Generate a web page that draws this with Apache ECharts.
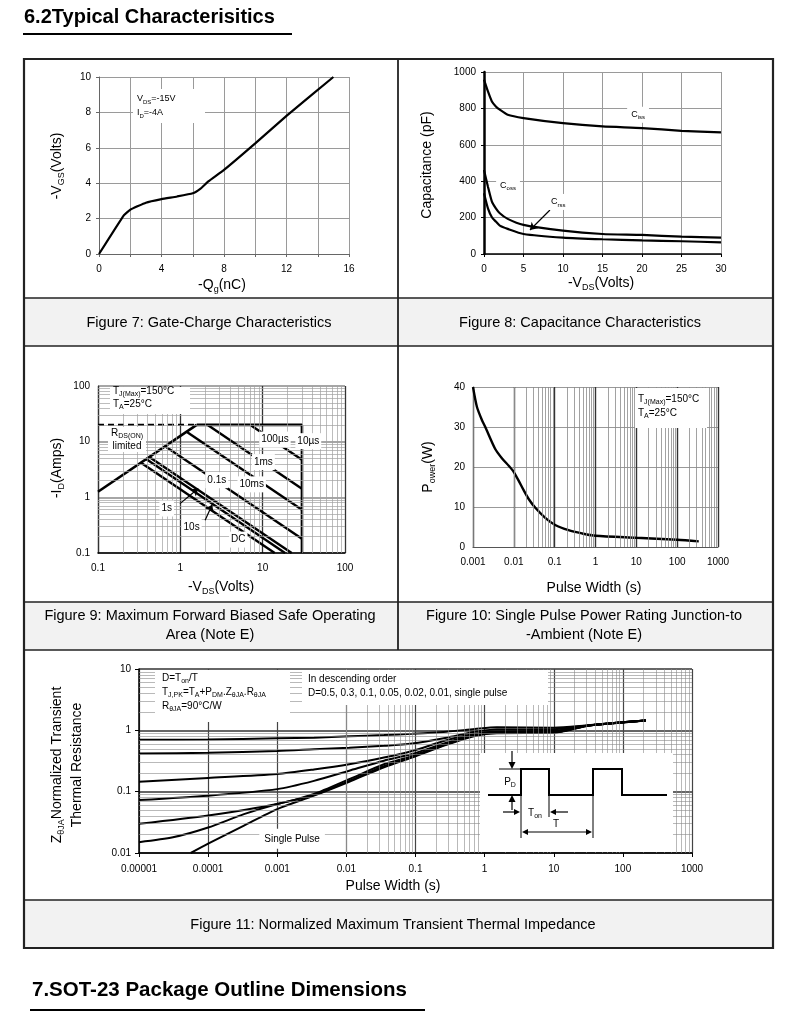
<!DOCTYPE html>
<html>
<head>
<meta charset="utf-8">
<title>Typical Characteristics</title>
<script src="https://cdn.jsdelivr.net/npm/echarts@6/dist/echarts.min.js"></script>
<style>
html,body{margin:0;padding:0;background:#fff;}
#chart{width:790px;height:1025px;}
</style>
</head>
<body>
<div id="chart"></div>
<script>
// ---------------- DATA ----------------
// Figure 7: gate charge
const gateCharge  = [0, 1.6, 2, 3, 4, 5, 6, 6.5, 7, 8, 10, 12, 15];
const gateVoltage = [0, 2.2, 2.5, 2.9, 3.1, 3.25, 3.43, 3.7, 4.1, 4.75, 6.25, 7.8, 10];

// Figure 8: capacitance
const capVds = [0, 0.5, 1, 1.5, 2, 3, 5, 10, 15, 20, 25, 30];
const cissPF = [958, 893, 838, 811, 793, 765, 747, 719, 701, 692, 677, 668];
const cossPF = [462, 370, 288, 251, 224, 193, 160, 128, 110, 105, 95, 90];
const crssPF = [334, 251, 202, 178, 156, 138, 110, 90, 81, 75, 70, 64];

// Figure 9: safe operating area
const soaRdsV   = [0.1, 1.58];
const soaRdsI   = [1.26, 20];
const soaBoundV = [1.58, 30, 30];
const soaBoundI = [20, 20, 0.1];
const soaDashV  = [0.1, 1.58];
const soaDashI  = [20, 20];
const soaPulseNames = ['100µs', '1ms', '10ms', '0.1s', '1s', '10s', 'DC'];
const soaStartV = [7.1, 2.15, 1.19, 0.653, 0.42, 0.384, 0.333];
const soaStartI = [20, 20, 15.1, 8.27, 5.3, 4.86, 4.2];
const soaEndV   = [30, 30, 30, 30, 22.5, 18.7, 14];
const soaEndI   = [4.73, 1.43, 0.6, 0.18, 0.1, 0.1, 0.1];

// Figure 10: single pulse power
const pulseWidthS = [0.001, 0.00125, 0.00166, 0.002, 0.0035, 0.0051, 0.0075, 0.0099, 0.0131, 0.0174, 0.0231, 0.0336, 0.0588, 0.103, 0.219, 0.465, 1, 10, 100, 338];
const peakPowerW  = [40, 35, 31.7, 30, 24.5, 22.2, 20.3, 18.8, 16.6, 14.2, 12.0, 9.8, 7.3, 5.5, 4.2, 3.4, 2.8, 2.3, 1.8, 1.4];

// Figure 11: normalized transient thermal impedance
const zthT    = [1e-5, 1e-4, 1e-3, 3.4e-3, 0.011, 0.035, 0.089, 0.28, 0.72, 1.5, 10, 30, 215];
const zthD05  = [0.70, 0.71, 0.74, 0.76, 0.80, 0.84, 0.88, 0.95, 1.05, 1.12, 1.1, 1.2, 1.44];
const zthD03  = [0.42, 0.43, 0.46, 0.49, 0.52, 0.56, 0.61, 0.76, 0.95, 1.03, 1.04, 1.2, 1.44];
const zthD01  = [0.145, 0.167, 0.194, 0.23, 0.28, 0.36, 0.46, 0.69, 0.88, 0.96, 0.98, 1.19, 1.44];
const zthD005 = [0.073, 0.086, 0.11, 0.15, 0.22, 0.32, 0.41, 0.63, 0.86, 0.94, 0.95, 1.19, 1.44];
const zthD002 = [0.030, 0.041, 0.063, 0.092, 0.16, 0.28, 0.38, 0.61, 0.84, 0.92, 0.93, 1.18, 1.44];
const zthD001T = [1e-5, 3.1e-5, 1e-4, 3.3e-4, 1e-3, 3.4e-3, 0.011, 0.035, 0.089, 0.28, 0.72, 1.5, 10, 30, 215];
const zthD001  = [0.015, 0.018, 0.026, 0.043, 0.063, 0.088, 0.15, 0.26, 0.37, 0.59, 0.83, 0.91, 0.92, 1.18, 1.44];
const zthSingleT = [5.6e-5, 1e-4, 3.3e-4, 1e-3, 3.4e-3, 0.011, 0.035, 0.089, 0.28, 0.72, 1.5, 10, 30, 215];
const zthSingle  = [0.01, 0.0142, 0.028, 0.052, 0.086, 0.145, 0.25, 0.36, 0.58, 0.81, 0.9, 0.91, 1.18, 1.44];

// ---------------- LAYOUT ----------------
const FONT = '"Liberation Sans", Arial, Helvetica, sans-serif';
const GRIDS = [
  {left: 99,  top: 77,  width: 250, height: 177},
  {left: 484, top: 72,  width: 237, height: 182},
  {left: 98,  top: 386, width: 247, height: 167},
  {left: 473, top: 387, width: 245, height: 160},
  {left: 139, top: 669, width: 553, height: 184}
];

const chart = echarts.init(document.getElementById('chart'), null, {width: 790, height: 1025});

const zip = (xs, ys) => xs.map((x, i) => [x, ys[i]]);
const logFmt = v => {
  const e = Math.round(Math.log10(v));
  return e < 0 ? Math.pow(10, e).toFixed(-e) : String(Math.round(Math.pow(10, e)));
};
const plainFmt = v => String(v);
function minorValues(lo, hi) {
  const out = [];
  for (let e = lo; e < hi; e++) for (let k = 2; k <= 9; k++) out.push(+(k * Math.pow(10, e)).toPrecision(3));
  return out;
}
const tickLabel = {fontSize: 10, color: '#000', fontFamily: FONT};
const lbl = extra => Object.assign({}, tickLabel, extra || {});

function curve(gi, data, extra) {
  return Object.assign({
    type: 'line', xAxisIndex: gi, yAxisIndex: gi, data: data, symbol: 'none', showSymbol: false,
    smooth: 0.2, lineStyle: {color: '#000', width: 2.2}, z: 3, silent: true, animation: false
  }, extra || {});
}
function minorGrid(gi, xs, ys, color, width) {
  const d = [];
  (xs || []).forEach(v => d.push({xAxis: v}));
  (ys || []).forEach(v => d.push({yAxis: v}));
  return {
    type: 'line', xAxisIndex: gi, yAxisIndex: gi, data: [], symbol: 'none', z: 1, silent: true, animation: false,
    markLine: {silent: true, symbol: 'none', animation: false, label: {show: false},
      lineStyle: {color: color, width: width, type: 'solid'}, emphasis: {disabled: true}, data: d}
  };
}
function arrowLines(pairs) {
  return {
    silent: true, animation: false, symbol: ['none', 'arrow'], symbolSize: 7, label: {show: false},
    lineStyle: {color: '#000', width: 1.2, type: 'solid'}, emphasis: {disabled: true},
    data: pairs.map(p => [{coord: p[0]}, {coord: p[1]}])
  };
}

const xAxis = [
  {gridIndex: 0, type: 'value', min: 0, max: 16, interval: 2,
    axisLabel: lbl({margin: 10, formatter: v => (v % 4 === 0 ? String(v) : '')}),
    axisLine: {onZero: false, lineStyle: {color: '#666', width: 1}}, axisTick: {length: 3, lineStyle: {color: '#666'}},
    splitLine: {show: true, lineStyle: {color: '#9a9a9a', width: 1}}},
  {gridIndex: 1, type: 'value', min: 0, max: 30, interval: 5, axisLabel: lbl({margin: 10, formatter: plainFmt}),
    axisLine: {onZero: false, lineStyle: {color: '#000', width: 1.5}}, axisTick: {length: 3, lineStyle: {color: '#000'}},
    splitLine: {show: true, lineStyle: {color: '#9a9a9a', width: 1}}},
  {gridIndex: 2, type: 'log', logBase: 10, min: 0.1, max: 100, axisLabel: lbl({margin: 10, formatter: logFmt}),
    axisLine: {lineStyle: {color: '#000', width: 1.5}}, axisTick: {show: false},
    splitLine: {show: true, lineStyle: {color: '#333', width: 1.3}}},
  {gridIndex: 3, type: 'log', logBase: 10, min: 0.001, max: 1000, axisLabel: lbl({margin: 10, formatter: logFmt}),
    axisLine: {lineStyle: {color: '#555', width: 1.2}}, axisTick: {show: false},
    splitLine: {show: true, lineStyle: {color: '#333', width: 1.4}}},
  {gridIndex: 4, type: 'log', logBase: 10, min: 0.00001, max: 1000, axisLabel: lbl({margin: 11, formatter: logFmt}),
    axisLine: {lineStyle: {color: '#000', width: 1.5}}, axisTick: {show: true, length: 4, lineStyle: {color: '#000'}},
    splitLine: {show: true, lineStyle: {color: '#444', width: 1.2}}}
];
const yAxis = [
  {gridIndex: 0, type: 'value', min: 0, max: 10, interval: 2, axisLabel: lbl({formatter: plainFmt}),
    axisLine: {onZero: false, lineStyle: {color: '#666', width: 1}}, axisTick: {length: 3, lineStyle: {color: '#666'}},
    splitLine: {show: true, lineStyle: {color: '#9a9a9a', width: 1}}},
  {gridIndex: 1, type: 'value', min: 0, max: 1000, interval: 200, axisLabel: lbl({formatter: plainFmt}),
    axisLine: {onZero: false, lineStyle: {color: '#000', width: 2.5}}, axisTick: {length: 3, lineStyle: {color: '#000'}},
    splitLine: {show: true, lineStyle: {color: '#9a9a9a', width: 1}}},
  {gridIndex: 2, type: 'log', logBase: 10, min: 0.1, max: 100, axisLabel: lbl({formatter: logFmt}),
    axisLine: {lineStyle: {color: '#333', width: 1.2}}, axisTick: {show: false},
    splitLine: {show: true, lineStyle: {color: '#888', width: 1.5}}},
  {gridIndex: 3, type: 'value', min: 0, max: 40, interval: 10, axisLabel: lbl({formatter: plainFmt}),
    axisLine: {onZero: false, lineStyle: {color: '#777', width: 1}}, axisTick: {show: false},
    splitLine: {show: true, lineStyle: {color: '#999', width: 1}}},
  {gridIndex: 4, type: 'log', logBase: 10, min: 0.01, max: 10, axisLabel: lbl({formatter: logFmt}),
    axisLine: {lineStyle: {color: '#000', width: 1.5}}, axisTick: {show: true, length: 4, lineStyle: {color: '#000'}},
    splitLine: {show: true, lineStyle: {color: '#333', width: 1.5}}}
];

const series = [];
// Fig 7
series.push(curve(0, zip(gateCharge, gateVoltage), {smooth: 0.12}));
// Fig 8
series.push(curve(1, zip(capVds, cissPF)));
series.push(curve(1, zip(capVds, cossPF)));
series.push(curve(1, zip(capVds, crssPF), {markLine: arrowLines([[[8.35, 242], [5.82, 132]]])}));
// Fig 9
series.push(minorGrid(2, minorValues(-1, 2), minorValues(-1, 2), '#a0a0a0', 0.7));
series.push(curve(2, zip(soaRdsV, soaRdsI), {smooth: false, lineStyle: {color: '#000', width: 2.6}}));
series.push(curve(2, zip(soaBoundV, soaBoundI), {smooth: false, lineStyle: {color: '#000', width: 2.6}}));
series.push(curve(2, zip(soaDashV, soaDashI), {smooth: false, lineStyle: {color: '#000', width: 2.2, type: [6, 4]}}));
soaPulseNames.forEach((n, i) => {
  const extra = {smooth: false, name: n, lineStyle: {color: '#000', width: 2.4}};
  if (n === '1s') extra.markLine = arrowLines([[[0.99, 0.772], [1.65, 1.44]], [[2.0, 0.387], [2.44, 0.74]]]);
  series.push(curve(2, [[soaStartV[i], soaStartI[i]], [soaEndV[i], soaEndI[i]]], extra));
});
// Fig 10
series.push(minorGrid(3, minorValues(-3, 3), null, '#8a8a8a', 0.8));
series.push(curve(3, zip(pulseWidthS, peakPowerW), {smooth: 0.25, lineStyle: {color: '#000', width: 2.4}}));
// Fig 11
series.push(minorGrid(4, minorValues(-5, 3), minorValues(-2, 1), '#8a8a8a', 0.6));
[zthD05, zthD03, zthD01, zthD005, zthD002].forEach(z => series.push(curve(4, zip(zthT, z), {smooth: 0.25, lineStyle: {color: '#000', width: 2}})));
series.push(curve(4, zip(zthD001T, zthD001), {smooth: 0.25, lineStyle: {color: '#000', width: 2}}));
series.push(curve(4, zip(zthSingleT, zthSingle), {smooth: 0.25, lineStyle: {color: '#000', width: 2}}));

chart.setOption({
  animation: false,
  grid: GRIDS.map(g => Object.assign({containLabel: false}, g)),
  xAxis: xAxis,
  yAxis: yAxis,
  series: series
});

// ---------------- GRAPHICS (frame, captions, annotations) ----------------
function txt(x, y, text, fs, o) {
  o = o || {};
  const subFs = Math.max(6, Math.round(fs * 0.66));
  const style = {
    text: text, fontSize: fs, fontFamily: FONT, fontWeight: o.bold ? 'bold' : 'normal', fill: '#000',
    align: o.align || 'left', verticalAlign: 'middle', lineHeight: o.lh || Math.round(fs * 1.35),
    rich: {s: {fontSize: subFs, lineHeight: subFs + 1, fontFamily: FONT, fill: '#000', verticalAlign: 'bottom'}}
  };
  if (o.bg) { style.backgroundColor = o.bg; style.padding = o.pad || [1, 2]; }
  const el = {type: 'text', x: x, y: y, z: 100, silent: true, style: style};
  if (o.rot) el.rotation = o.rot;
  return el;
}
const line = (x1, y1, x2, y2, w, c) => ({type: 'line', z: 100, silent: true, shape: {x1, y1, x2, y2}, style: {stroke: c || '#000', lineWidth: w || 1}});
const rect = (x, y, w, h, fill, stroke, lw) => ({type: 'rect', z: 99, silent: true, shape: {x, y, width: w, height: h}, style: {fill: fill || 'none', stroke: stroke || null, lineWidth: lw || 0}});
const poly = (pts, fill) => ({type: 'polygon', z: 101, silent: true, shape: {points: pts}, style: {fill: fill || '#000'}});
const polyline = (pts, w) => ({type: 'polyline', z: 101, silent: true, shape: {points: pts}, style: {stroke: '#000', lineWidth: w || 1, fill: null}});
const P = (gi, x, y) => chart.convertToPixel({gridIndex: gi}, [x, y]);

const L = 24, R = 773, MID = 398, TOP = 59, BOT = 948;
const BANDS = [[298, 346], [602, 650], [900, 948]];
const G = [];

// headings
G.push(txt(24, 17, '6.2Typical Characterisitics', 20, {bold: true}));
G.push(line(23, 34, 292, 34, 2));
G.push(txt(32, 990, '7.SOT-23 Package Outline Dimensions', 20.5, {bold: true}));
G.push(line(30, 1010, 425, 1010, 2));

// table frame
BANDS.forEach(b => { G.push(rect(L, b[0], R - L, b[1] - b[0], '#f2f2f2')); });
BANDS.forEach(b => { G.push(line(L, b[0], R, b[0], 1.6, '#222')); G.push(line(L, b[1], R, b[1], 1.6, '#222')); });
G.push(line(MID, TOP, MID, BANDS[1][1], 1.8, '#222'));
G.push(rect(L, TOP, R - L, BOT - TOP, 'none', '#222', 2.2));

// captions
const CAP = 14.5;
G.push(txt(209, 323, 'Figure 7: Gate-Charge Characteristics', CAP, {align: 'center'}));
G.push(txt(580, 323, 'Figure 8: Capacitance Characteristics', CAP, {align: 'center'}));
G.push(txt(210, 625, 'Figure 9: Maximum Forward Biased Safe Operating\nArea (Note E)', CAP, {align: 'center', lh: 19}));
G.push(txt(584, 625, 'Figure 10: Single Pulse Power Rating Junction-to\n-Ambient (Note E)', CAP, {align: 'center', lh: 19}));
G.push(txt(393, 925, 'Figure 11: Normalized Maximum Transient Thermal Impedance', CAP, {align: 'center'}));

// axis names
const ROT = Math.PI / 2;
G.push(txt(57, 166, '-V{s|GS}(Volts)', 14, {align: 'center', rot: ROT}));
G.push(txt(222, 285, '-Q{s|g}(nC)', 14, {align: 'center'}));
G.push(txt(427, 165, 'Capacitance (pF)', 14, {align: 'center', rot: ROT}));
G.push(txt(601, 283, '-V{s|DS}(Volts)', 14, {align: 'center'}));
G.push(txt(57, 468, '-I{s|D}(Amps)', 14, {align: 'center', rot: ROT}));
G.push(txt(221, 587, '-V{s|DS}(Volts)', 14, {align: 'center'}));
G.push(txt(428, 467, 'P{s|ower}(W)', 14, {align: 'center', rot: ROT}));
G.push(txt(594, 588, 'Pulse Width (s)', 14, {align: 'center'}));
G.push(txt(57, 765, 'Z{s|θJA}Normalized Transient', 14, {align: 'center', rot: ROT}));
G.push(txt(77, 765, 'Thermal Resistance', 14, {align: 'center', rot: ROT}));
G.push(txt(393, 886, 'Pulse Width (s)', 14, {align: 'center'}));

// Fig 7 annotation
G.push(rect(133, 89, 72, 34, '#fff'));
G.push(txt(137, 99, 'V{s|DS}=-15V', 9));
G.push(txt(137, 113, 'I{s|D}=-4A', 9));

// Fig 8 labels
[['C{s|iss}', 19.5, 765], ['C{s|oss}', 3.04, 379], ['C{s|rss}', 9.4, 286]].forEach(a => {
  const p = P(1, a[1], a[2]);
  G.push(txt(p[0], p[1], a[0], 9, {align: 'center', bg: '#fff', pad: [2, 4]}));
});

// Fig 9 annotations
G.push(rect(110, 387, 80, 27, '#fff'));
G.push(txt(113, 391, 'T{s|J(Max)}=150°C', 10));
G.push(txt(113, 404, 'T{s|A}=25°C', 10));
G.push(rect(108, 427, 38, 25, '#fff'));
G.push(txt(127, 433, 'R{s|DS(ON)}', 10, {align: 'center'}));
G.push(txt(127, 446, 'limited', 10, {align: 'center'}));
[['100µs', 14.1, 10.9], ['10µs', 35.8, 10.2], ['1ms', 10.2, 4.3], ['10ms', 7.36, 1.71], ['0.1s', 2.77, 2.03],
 ['1s', 0.683, 0.63], ['10s', 1.37, 0.293], ['DC', 5.06, 0.174]].forEach(a => {
  const p = P(2, a[1], a[2]);
  G.push(txt(p[0], p[1], a[0], 10, {align: 'center', bg: '#fff', pad: [1, 2]}));
});

// Fig 10 annotation
G.push(rect(635, 388, 72, 40, '#fff'));
G.push(txt(638, 399, 'T{s|J(Max)}=150°C', 10));
G.push(txt(638, 413, 'T{s|A}=25°C', 10));

// Fig 11 annotations
G.push(rect(155, 670, 135, 52, '#fff'));
G.push(txt(162, 678, 'D=T{s|on}/T', 10));
G.push(txt(162, 692, 'T{s|J,PK}=T{s|A}+P{s|DM}.Z{s|θJA}.R{s|θJA}', 10));
G.push(txt(162, 706, 'R{s|θJA}=90°C/W', 10));
G.push(rect(302, 670, 246, 35, '#fff'));
G.push(txt(308, 679, 'In descending order', 10));
G.push(txt(308, 693, 'D=0.5, 0.3, 0.1, 0.05, 0.02, 0.01, single pulse', 10));
(function () {
  const p = P(4, 1.64e-3, 0.017);
  G.push(txt(p[0], p[1], 'Single Pulse', 10, {align: 'center', bg: '#fff', pad: [3, 5]}));
})();

// Fig 11 pulse inset
G.push(rect(480, 753, 193, 99, '#fff'));
G.push(polyline([[488, 795], [521, 795], [521, 769], [549, 769], [549, 795], [593, 795], [593, 769], [622, 769], [622, 795], [667, 795]], 2));
G.push(line(499, 769, 521, 769, 1));
G.push(line(512, 751, 512, 764, 1.2)); G.push(poly([[508.5, 762], [515.5, 762], [512, 769]]));
G.push(line(512, 810, 512, 800, 1.2)); G.push(poly([[508.5, 802], [515.5, 802], [512, 795]]));
G.push(txt(510, 782, 'P{s|D}', 10, {align: 'center'}));
G.push(line(503, 812, 516, 812, 1.2)); G.push(poly([[514, 809], [514, 815], [520, 812]]));
G.push(line(568, 812, 555, 812, 1.2)); G.push(poly([[556, 809], [556, 815], [550, 812]]));
G.push(line(521, 795, 521, 838, 1)); G.push(line(549, 795, 549, 817, 1)); G.push(line(593, 795, 593, 838, 1));
G.push(line(527, 832, 587, 832, 1.2));
G.push(poly([[528, 829], [528, 835], [522, 832]])); G.push(poly([[586, 829], [586, 835], [592, 832]]));
G.push(txt(535, 813, 'T{s|on}', 10, {align: 'center'}));
G.push(txt(556, 824, 'T', 10, {align: 'center'}));

chart.setOption({graphic: {elements: G}});
</script>
</body>
</html>
